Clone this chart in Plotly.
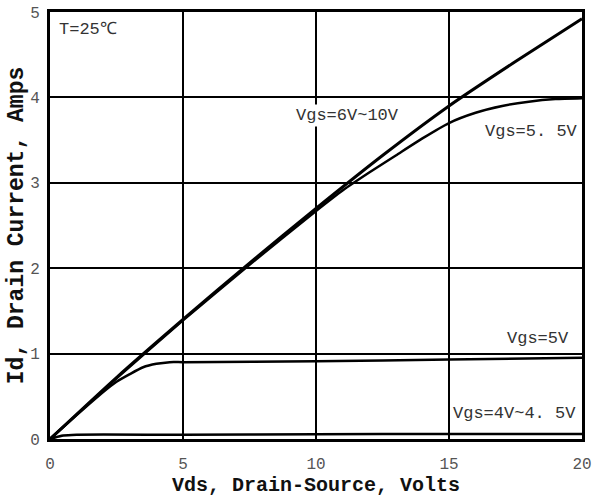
import plotly.graph_objects as go

# Data
x_hi = [0, 2.5, 5, 7.5, 10, 12.5, 15, 17.5, 20]
y_hi = [0, 0.72, 1.40, 2.06, 2.70, 3.32, 3.90, 4.42, 4.92]

x_55 = [0, 2.5, 5, 7.5, 10, 11, 12, 13, 14, 15, 16, 17, 18, 19, 20]
y_55 = [0, 0.71, 1.39, 2.04, 2.67, 2.91, 3.12, 3.32, 3.52, 3.70, 3.82, 3.90, 3.95, 3.98, 3.99]

x_5 = [0, 1, 2, 2.5, 3, 3.5, 4, 4.5, 5, 10, 15, 20]
y_5 = [0, 0.28, 0.55, 0.67, 0.76, 0.84, 0.88, 0.90, 0.90, 0.91, 0.93, 0.95]

x_4 = [0, 0.5, 1, 5, 10, 15, 20]
y_4 = [0, 0.04, 0.05, 0.05, 0.055, 0.06, 0.06]

labels = ["Vgs=6V~10V", "Vgs=5. 5V", "Vgs=5V", "Vgs=4V~4. 5V"]
label_x = [11.2, 18.1, 18.35, 17.45]
label_y = [3.79, 3.6, 1.18, 0.30]

x_ticks = [0, 5, 10, 15, 20]
y_ticks = [0, 1, 2, 3, 4, 5]

MONO = "Liberation Mono, DejaVu Sans Mono, monospace"

fig = go.Figure()
for xs, ys, w in [(x_hi, y_hi, 3), (x_55, y_55, 2.5), (x_5, y_5, 2.5), (x_4, y_4, 2.5)]:
    fig.add_trace(go.Scatter(x=xs, y=ys, mode="lines",
                             line=dict(color="black", width=w, shape="spline", smoothing=0.6),
                             showlegend=False, hoverinfo="skip"))

for t, lx, ly in zip(labels, label_x, label_y):
    fig.add_annotation(x=lx, y=ly, text=t, showarrow=False, bgcolor="white",
                       font=dict(family=MONO, size=17, color="#333"))

fig.add_annotation(x=0.26, y=4.79, text="T=25℃", showarrow=False, xanchor="left",
                   font=dict(family=MONO, size=17, color="#333"))

fig.update_layout(
    width=592, height=498,
    margin=dict(l=50, r=10, t=12, b=59),
    plot_bgcolor="white", paper_bgcolor="white",
    xaxis=dict(range=[0, 20], tickvals=x_ticks, showgrid=True, gridcolor="black", gridwidth=1.5,
               showline=True, linecolor="black", linewidth=3, mirror=True, zeroline=False,
               ticks="", ticklabelstandoff=8, automargin=False,
               tickfont=dict(family=MONO, size=16, color="#555"),
               title=dict(text="<b>Vds, Drain-Source, Volts</b>",
                          font=dict(family=MONO, size=20, color="#111"), standoff=0)),
    yaxis=dict(range=[0, 5], tickvals=y_ticks, showgrid=True, gridcolor="black", gridwidth=1.5,
               showline=True, linecolor="black", linewidth=3, mirror=True, zeroline=False,
               ticks="", ticklabelstandoff=4, automargin=False,
               tickfont=dict(family=MONO, size=16, color="#555"),
               title=dict(text="<b>Id, Drain Current, Amps</b>",
                          font=dict(family=MONO, size=23, color="#111"), standoff=0)),
)

fig.write_html("out.html", config={"displayModeBar": False},
               post_script="document.body.style.margin='0px';document.body.style.overflow='hidden';")
